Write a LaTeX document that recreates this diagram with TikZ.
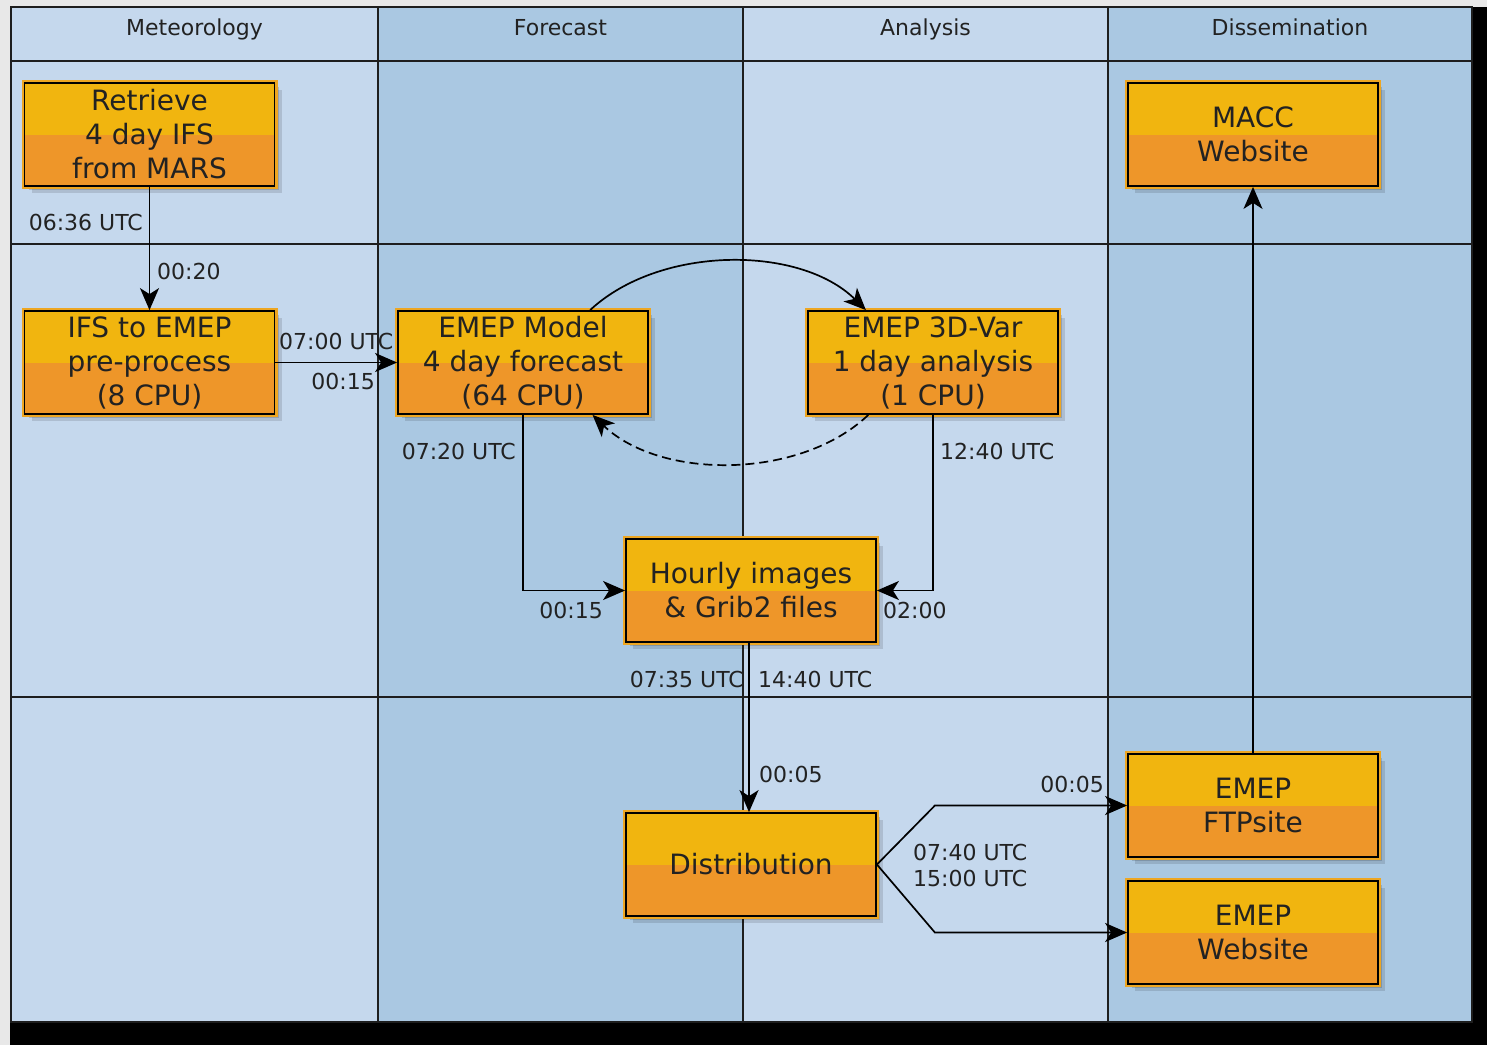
\documentclass[tikz,border=0pt]{standalone}
\usepackage{fontspec}
\setmainfont{DejaVu Sans}
\usetikzlibrary{arrows.meta,calc,shadows}
\definecolor{outerbg}{HTML}{E8E8E8}
\definecolor{collight}{HTML}{C5D8ED}
\definecolor{coldark}{HTML}{AAC8E2}
\definecolor{gridc}{HTML}{1E1E1E}
\definecolor{boxtop}{HTML}{F1B50F}
\definecolor{boxbot}{HTML}{EE9629}
\definecolor{boxglow}{HTML}{EDA622}
\definecolor{txt}{HTML}{222222}
\newcommand{\boxfont}{\fontsize{28}{34}\selectfont}
\newcommand{\lblfont}{\fontsize{22}{26}\selectfont}
\begin{document}
\begin{tikzpicture}[x=1pt,y=-1pt,
  proc/.style={rectangle, minimum width=250pt, minimum height=103pt, inner sep=0pt,
    align=center, font=\boxfont, text=txt,
    drop shadow={shadow xshift=7pt, shadow yshift=-7pt, opacity=0.12, fill=black},
    drop shadow={shadow xshift=4pt, shadow yshift=-4pt, opacity=0.15, fill=black},
    preaction={draw=boxglow, line width=6pt},
    fill=boxbot,
    path picture={\fill[boxtop] (path picture bounding box.north west) rectangle (path picture bounding box.east);},
    draw=black, line width=1.8pt},
  lbl/.style={font=\lblfont, text=txt, inner sep=0pt},
  hdr/.style={font=\lblfont, text=txt, inner sep=0pt, anchor=base},
  grid line/.style={draw=gridc, line width=1.5pt},
  conn/.style={draw=black, line width=1.7pt, -{Stealth[length=22pt,width=19pt,inset=6pt]}},
]
\useasboundingbox (0,0) rectangle (1487,1045);
% background and table
\fill[outerbg] (0,0) rectangle (1487,1045);
\fill[black] (10,7) rectangle (1487,1045);
\fill[collight] (11,7) rectangle (378,1022);
\fill[coldark] (378,7) rectangle (743,1022);
\fill[collight] (743,7) rectangle (1108,1022);
\fill[coldark] (1108,7) rectangle (1472,1022);
\draw[grid line] (11,7) rectangle (1472,1022);
\draw[grid line] (378,7) -- (378,1022);
\draw[grid line] (743,7) -- (743,1022);
\draw[grid line] (1108,7) -- (1108,1022);
\draw[grid line] (11,61) -- (1472,61);
\draw[grid line] (11,244) -- (1472,244);
\draw[grid line] (11,697) -- (1472,697);
% headers
\node[hdr] (h1) at (194.5,35) {Meteorology};
\node[hdr] (h2) at (560.5,35) {Forecast};
\node[hdr] (h3) at (925.5,35) {Analysis};
\node[hdr] (h4) at (1290,35) {Dissemination};
% process boxes
\node[proc] (ret) at (149.5,134.5) {Retrieve\\4 day IFS\\from MARS};
\node[proc] (macc) at (1253,134.5) {MACC\\Website};
\node[proc] (ifs) at (149.5,362.5) {IFS to EMEP\\pre-process\\(8 CPU)};
\node[proc] (model) at (523,362.5) {EMEP Model\\4 day forecast\\(64 CPU)};
\node[proc] (var) at (933,362.5) {EMEP 3D-Var\\1 day analysis\\(1 CPU)};
\node[proc] (hourly) at (751,590.5) {Hourly images\\\& Grib2 files};
\node[proc] (dist) at (751,864.5) {Distribution};
\node[proc] (ftp) at (1253,805.5) {EMEP\\FTPsite};
\node[proc] (web) at (1253,932.5) {EMEP\\Website};
% connectors
\draw[conn] (ret) -- (ifs);
\draw[conn] (ifs) -- (model);
\draw[conn] (model.38) .. controls (660,245) and (800,245) .. (var.142);
\draw[conn, dash pattern=on 9pt off 5pt] (var.219) .. controls (800,480) and (660,480) .. (model.-37);
\draw[conn] (model.south) |- (hourly.west);
\draw[conn] (var.south) |- (hourly.east);
\draw[conn] ([xshift=-2pt]hourly.south) -- ([xshift=-2pt]dist.north);
\draw[conn] (dist.east) -- ($(dist.east |- ftp.west)+(58,0)$) -- (ftp.west);
\draw[conn] (dist.east) -- ($(dist.east |- web.west)+(58,0)$) -- (web.west);
\draw[conn] (ftp) -- (macc);
% labels
\node[lbl, anchor=base east] (l1) at (143,230) {06:36 UTC};
\node[lbl, anchor=base west] (l2) at (157,279) {00:20};
\node[lbl, anchor=base west] (l3) at (279,349) {07:00 UTC};
\node[lbl, anchor=base east] (l4) at (375,389) {00:15};
\node[lbl, anchor=base east] (l5) at (516,459) {07:20 UTC};
\node[lbl, anchor=base east] (l6) at (603,618) {00:15};
\node[lbl, anchor=base west] (l7) at (940,459) {12:40 UTC};
\node[lbl, anchor=base west] (l8) at (883,618) {02:00};
\node[lbl, anchor=base east] (l9) at (744,687) {07:35 UTC};
\node[lbl, anchor=base west] (l10) at (758,687) {14:40 UTC};
\node[lbl, anchor=base west] (l11) at (759,782) {00:05};
\node[lbl, anchor=base west, align=left] (l12) at (913,886) {07:40 UTC\\15:00 UTC};
\node[lbl, anchor=base east] (l13) at (1104,792) {00:05};
\end{tikzpicture}
\end{document}
